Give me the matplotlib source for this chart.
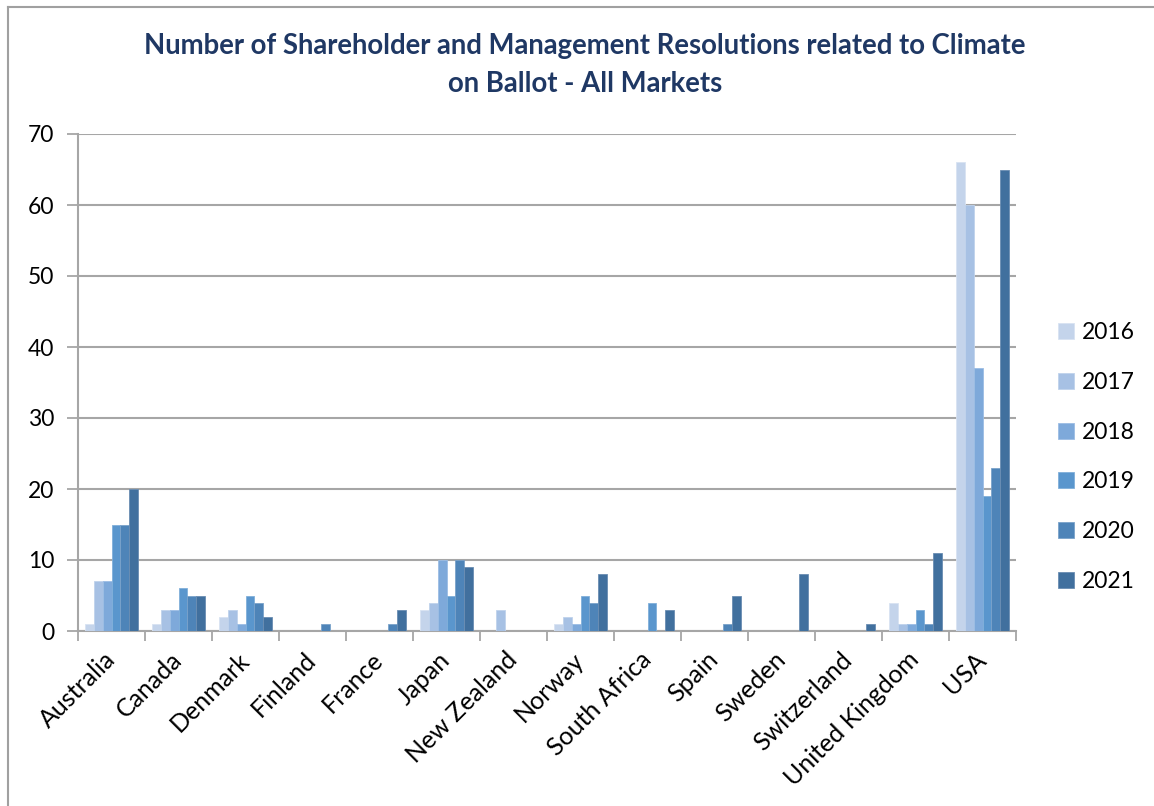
import numpy as np
import matplotlib
matplotlib.use("Agg")
import matplotlib.pyplot as plt
from matplotlib.lines import Line2D

plt.rcParams['font.family'] = ['Lato', 'DejaVu Sans']

# landen en jaren
landen = ['Australia', 'Canada', 'Denmark', 'Finland', 'France', 'Japan',
          'New Zealand', 'Norway', 'South Africa', 'Spain', 'Sweden',
          'Switzerland', 'United Kingdom', 'USA']
jaren = ['2016', '2017', '2018', '2019', '2020', '2021']

# aantal resoluties per land, per jaar
r2016 = [1, 1, 2, 0, 0, 3, 0, 1, 0, 0, 0, 0, 4, 66]
r2017 = [7, 3, 3, 0, 0, 4, 3, 2, 0, 0, 0, 0, 1, 60]
r2018 = [7, 3, 1, 0, 0, 10, 0, 1, 0, 0, 0, 0, 1, 37]
r2019 = [15, 6, 5, 0, 0, 5, 0, 5, 4, 0, 0, 0, 3, 19]
r2020 = [15, 5, 4, 1, 1, 10, 0, 4, 0, 1, 0, 0, 1, 23]
r2021 = [20, 5, 2, 0, 3, 9, 0, 8, 3, 5, 8, 1, 11, 65]
reeksen = [r2016, r2017, r2018, r2019, r2020, r2021]

kleuren = ['#C4D4EB', '#A7C1E4', '#7EA9DA', '#5A96CD', '#4E84B8', '#41709E']
randen = ['#D8E3F2', '#C0D3EC', '#9CBDE4', '#80AFDA', '#7AA2CA', '#6A8DB2']

fig = plt.figure(figsize=(11.54, 8.06), dpi=100)
ax = fig.add_axes([78 / 1154, 1 - 631 / 806, (1016 - 78) / 1154, (631 - 134) / 806])

x = np.arange(len(landen))
breedte = 1 / 7.5
for i, reeks in enumerate(reeksen):
    ax.bar(x + (i - 2.5) * breedte, reeks, breedte, color=kleuren[i],
           edgecolor=randen[i], linewidth=0.6, label=jaren[i], zorder=3)

ax.set_xlim(-0.5, len(landen) - 0.5)
ax.set_ylim(0, 70)
ax.set_yticks(range(0, 71, 10))
ax.yaxis.grid(True, color='#A6A6A6', linewidth=1.5, zorder=0)

# tick marks op de grenzen, labels in het midden
ax.set_xticks(np.arange(-0.5, len(landen), 1.0))
ax.set_xticklabels([])
ax.set_xticks(x, minor=True)
ax.set_xticklabels(landen, minor=True, rotation=45, ha='right', va='center',
                   rotation_mode='anchor', fontsize=18)
ax.tick_params(axis='x', which='minor', length=0, pad=18)
ax.tick_params(axis='x', which='major', length=7, width=1.3, color='#A6A6A6', direction='out')
ax.tick_params(axis='y', length=8, width=1.3, color='#A6A6A6', labelsize=16.5, pad=9)

for kant in ['top', 'right']:
    ax.spines[kant].set_visible(False)
for kant in ['left', 'bottom']:
    ax.spines[kant].set_color('#A6A6A6')
    ax.spines[kant].set_linewidth(1.5)

fig.text(585 / 1154, 1 - 65 / 806,
         'Number of Shareholder and Management Resolutions related to Climate\non Ballot - All Markets',
         ha='center', va='center', fontsize=19.8, fontweight='bold', color='#1F3864',
         linespacing=1.55)

fig.legend(loc='center left', bbox_to_anchor=(1037 / 1154, 1 - 457 / 806),
           frameon=False, fontsize=16.5, handlelength=0.7, handleheight=0.7,
           handletextpad=0.35, labelspacing=1.25)

# grijze rand om de grafiek
fig.add_artist(Line2D([8 / 1154, 1], [1 - 7 / 806, 1 - 7 / 806],
                      transform=fig.transFigure, color='#A0A0A0', linewidth=1.5))
fig.add_artist(Line2D([8 / 1154, 8 / 1154], [0, 1 - 7 / 806],
                      transform=fig.transFigure, color='#A0A0A0', linewidth=1.5))

fig.savefig('out.png', dpi=100)
